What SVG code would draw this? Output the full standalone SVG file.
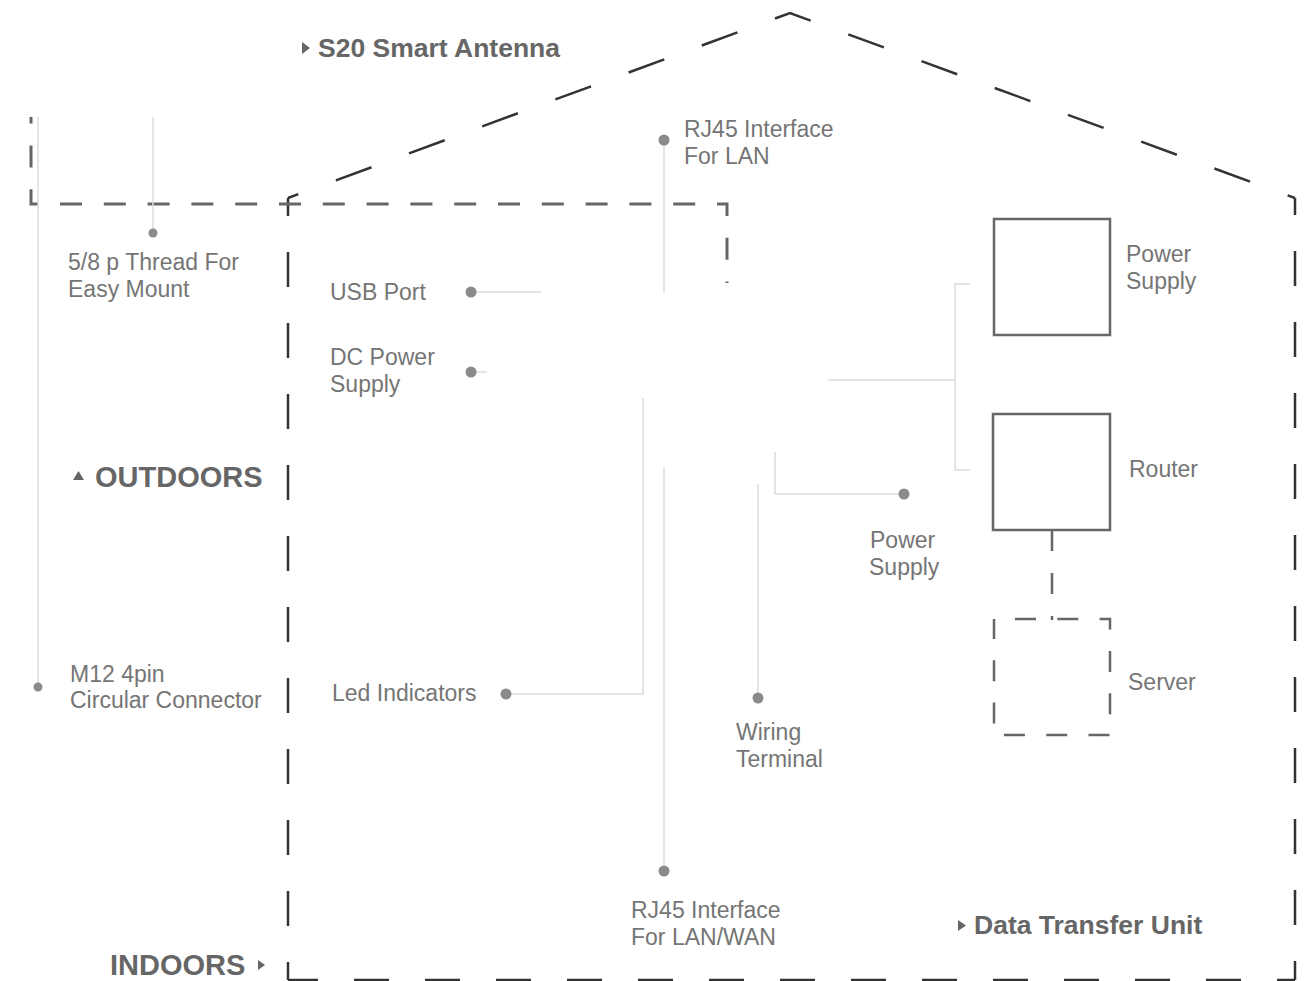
<svg xmlns="http://www.w3.org/2000/svg" width="1312" height="981" viewBox="0 0 1312 981">
<style>
.house{fill:none;stroke:#333;stroke-width:2.5}
.wall{stroke-dasharray:35 36}
.roof{stroke-dasharray:38 40}
.ant{fill:none;stroke:#666;stroke-width:3;stroke-dasharray:22 21.8}
.lead{fill:none;stroke:#dcdcdc;stroke-width:1.5}
.dot{fill:#8a8a8a}
.box{fill:none;stroke:#666;stroke-width:2.5}
.lbl{font-family:"Liberation Sans",Arial,sans-serif;font-size:23px;fill:#757575}
.ttl{font-family:"Liberation Sans",Arial,sans-serif;font-weight:bold;fill:#666}
.tri{fill:#666}
</style>
<rect width="1312" height="981" fill="#fff"/>

<g id="house-outline">
<path class="house wall" d="M288,980 V198" stroke-dashoffset="17"/>
<path class="house roof" d="M288,198 L790,13 L1295,198" stroke-dashoffset="27"/>
<path class="house wall" d="M1295,198 V980" stroke-dashoffset="18"/>
<path class="house wall" d="M1295,980 H288" stroke-dashoffset="17"/>
</g>

<g id="antenna-outline">
<path class="ant" d="M31,117 V204 H727 V283" stroke-dashoffset="15.4"/>
</g>

<g id="connectors">
<line class="lead" x1="38" y1="117" x2="38" y2="687"/>
<line class="lead" x1="153" y1="117" x2="153" y2="233"/>
<line class="lead" x1="664" y1="140" x2="664" y2="292"/>
<line class="lead" x1="471" y1="292" x2="541" y2="292"/>
<line class="lead" x1="471" y1="372" x2="487" y2="372"/>
<polyline class="lead" points="506,694 643,694 643,398"/>
<line class="lead" x1="664" y1="468" x2="664" y2="871"/>
<line class="lead" x1="758" y1="484" x2="758" y2="698"/>
<polyline class="lead" points="904,494 775,494 775,452"/>
<line class="lead" x1="828" y1="380" x2="955" y2="380"/>
<polyline class="lead" points="970,284 955,284 955,470 970,470"/>
<line x1="1052" y1="530" x2="1052" y2="620" stroke="#666" stroke-width="2.5" stroke-dasharray="21 22"/>
</g>

<g id="title-antenna">
<polygon class="tri" points="302,42 310,48 302,54"/>
<text class="ttl" x="318" y="57" font-size="26.5">S20 Smart Antenna</text>
</g>

<g id="outdoors">
<polygon class="tri" points="73,480 84,480 78.5,471"/>
<text class="ttl" x="95" y="487" font-size="29">OUTDOORS</text>
</g>

<g id="indoors">
<text class="ttl" x="110" y="975" font-size="29">INDOORS</text>
<polygon class="tri" points="258,960 265,965 258,970"/>
</g>

<g id="title-dtu">
<polygon class="tri" points="958,920 966,925.5 958,931"/>
<text class="ttl" x="974" y="934" font-size="26.5">Data Transfer Unit</text>
</g>

<g id="thread">
<circle class="dot" cx="153" cy="233" r="4.5"/>
<text class="lbl" x="68" y="270">5/8 p Thread For</text>
<text class="lbl" x="68" y="297">Easy Mount</text>
</g>

<g id="m12">
<circle class="dot" cx="38" cy="687" r="4.5"/>
<text class="lbl" x="70" y="682">M12 4pin</text>
<text class="lbl" x="70" y="708">Circular Connector</text>
</g>

<g id="usb">
<circle class="dot" cx="471" cy="292" r="5.5"/>
<text class="lbl" x="330" y="300">USB Port</text>
</g>

<g id="dc-power">
<circle class="dot" cx="471" cy="372" r="5.5"/>
<text class="lbl" x="330" y="365">DC Power</text>
<text class="lbl" x="330" y="392">Supply</text>
</g>

<g id="rj45-lan">
<circle class="dot" cx="664" cy="140" r="5.5"/>
<text class="lbl" x="684" y="137">RJ45 Interface</text>
<text class="lbl" x="684" y="164">For LAN</text>
</g>

<g id="led">
<circle class="dot" cx="506" cy="694" r="5.5"/>
<text class="lbl" x="332" y="701">Led Indicators</text>
</g>

<g id="rj45-wan">
<circle class="dot" cx="664" cy="871" r="5.5"/>
<text class="lbl" x="631" y="918">RJ45 Interface</text>
<text class="lbl" x="631" y="945">For LAN/WAN</text>
</g>

<g id="wiring">
<circle class="dot" cx="758" cy="698" r="5.5"/>
<text class="lbl" x="736" y="740">Wiring</text>
<text class="lbl" x="736" y="767">Terminal</text>
</g>

<g id="power-port">
<circle class="dot" cx="904" cy="494" r="5.5"/>
<text class="lbl" x="870" y="548">Power</text>
<text class="lbl" x="869" y="575">Supply</text>
</g>

<g id="power-supply">
<rect class="box" x="994" y="219" width="116" height="116"/>
<text class="lbl" x="1126" y="262">Power</text>
<text class="lbl" x="1126" y="289">Supply</text>
</g>

<g id="router">
<rect class="box" x="993" y="414" width="117" height="116"/>
<text class="lbl" x="1129" y="477">Router</text>
</g>

<g id="server">
<rect class="box" x="994" y="619" width="116" height="116" stroke-dasharray="21 21.3" stroke-dashoffset="21.3"/>
<text class="lbl" x="1128" y="690">Server</text>
</g>
</svg>
